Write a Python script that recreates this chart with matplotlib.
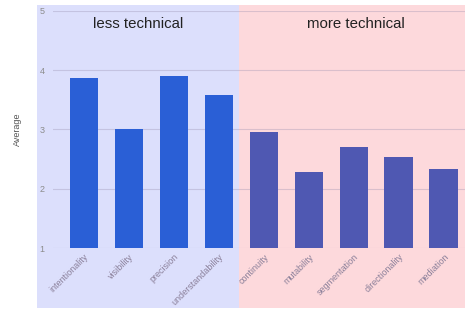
import matplotlib.pyplot as plt
from matplotlib.patches import Rectangle
from matplotlib.transforms import ScaledTranslation

plt.rcParams['font.family'] = ['Liberation Sans', 'DejaVu Sans']

# values
less_labels = ['intentionality', 'visibility', 'precision', 'understandability']
less_values = [3.86, 3.0, 3.91, 3.58]
more_labels = ['continuity', 'mutability', 'segmentation', 'directionality', 'mediation']
more_values = [2.95, 2.29, 2.70, 2.53, 2.33]
y_ticks = [1, 2, 3, 4, 5]

less_bar = '#2a5fd6'
more_bar = '#4f58b2'
less_bg = '#dcdffc'
more_bg = '#fdd9dc'

fig = plt.figure(figsize=(4.65, 3.12), dpi=100)
fig.patch.set_facecolor('white')

# shaded background panels behind the two groups
fig.add_artist(Rectangle((0.0796, 0.013), 0.434, 0.971, transform=fig.transFigure,
                         facecolor=less_bg, edgecolor='none', zorder=-5))
fig.add_artist(Rectangle((0.514, 0.013), 0.486, 0.971, transform=fig.transFigure,
                         facecolor=more_bg, edgecolor='none', zorder=-5))

ax = fig.add_axes([0.114, 0.205, 0.886, 0.76])
ax.patch.set_alpha(0)

n_less = len(less_labels)
x_less = list(range(n_less))
x_more = list(range(n_less, n_less + len(more_labels)))

ax.bar(x_less, [v - 1 for v in less_values], bottom=1, width=0.64,
       color=less_bar, zorder=3)
ax.bar(x_more, [v - 1 for v in more_values], bottom=1, width=0.64,
       color=more_bar, zorder=3)

ax.set_xlim(-0.69, 8.47)
ax.set_ylim(1, 5)
ax.set_yticks(y_ticks)
ax.set_yticklabels([str(t) for t in y_ticks], fontsize=6.5, color='#8c8c8c')
ax.set_xticks(x_less + x_more)
ax.set_xticklabels(less_labels + more_labels, rotation=45, ha='right',
                   rotation_mode='anchor', fontsize=6.5, color='#8a7f99')
shift = ScaledTranslation(4 / 72, 0, fig.dpi_scale_trans)
for lbl in ax.get_xticklabels():
    lbl.set_transform(lbl.get_transform() + shift)
ax.tick_params(axis='both', length=0, pad=3)
ax.tick_params(axis='y', pad=6)
ax.grid(axis='y', color='#9a8fb0', alpha=0.35, linewidth=0.8, zorder=1)
ax.set_axisbelow(True)
for s in ax.spines.values():
    s.set_visible(False)

ax.set_ylabel('Average', fontsize=6.5, color='#555555', labelpad=13)

fig.text(0.297, 0.924, 'less technical', ha='center', va='center', fontsize=10.8, color='#222222')
fig.text(0.766, 0.924, 'more technical', ha='center', va='center', fontsize=10.8, color='#222222')

fig.savefig('out.png', dpi=100)
